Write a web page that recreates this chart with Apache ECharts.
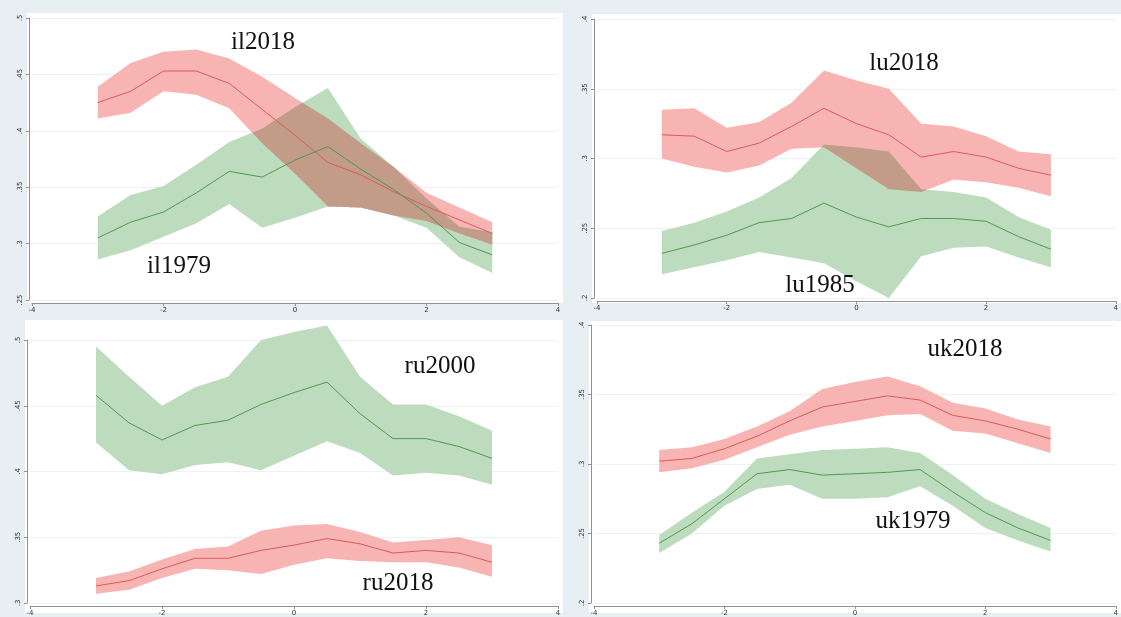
<!DOCTYPE html>
<html>
<head>
<meta charset="utf-8">
<script src="https://cdn.jsdelivr.net/npm/echarts@6/dist/echarts.min.js"></script>
<style>
html,body{margin:0;padding:0;background:#e8eff2;}
#chart{width:1121px;height:617px;}
</style>
</head>
<body>
<div id="chart"></div>
<script>
// shared x positions
const xs = [-3,-2.5,-2,-1.5,-1,-0.5,0,0.5,1,1.5,2,2.5,3];
const xTicks = [-4,-2,0,2,4];

// Panel 1: Israel
const ilTicks = [.25,.3,.35,.4,.45,.5];
const il2018 = [.425,.435,.453,.453,.442,.419,.396,.372,.361,.346,.333,.321,.309];
const il2018Hi = [.439,.460,.470,.472,.464,.448,.429,.411,.389,.368,.345,.332,.319];
const il2018Lo = [.411,.416,.435,.432,.420,.389,.362,.333,.332,.325,.320,.309,.299];
const il1979 = [.305,.319,.328,.345,.364,.359,.374,.386,.366,.348,.327,.301,.290];
const il1979Hi = [.324,.343,.351,.370,.390,.402,.421,.438,.393,.368,.340,.315,.310];
const il1979Lo = [.286,.294,.306,.318,.335,.314,.323,.333,.332,.325,.314,.288,.274];

// Panel 2: Luxembourg
const luTicks = [.2,.25,.3,.35,.4];
const lu2018 = [.317,.316,.305,.311,.323,.336,.325,.317,.301,.305,.301,.293,.288];
const lu2018Hi = [.335,.336,.322,.326,.340,.363,.356,.350,.325,.323,.316,.305,.303];
const lu2018Lo = [.300,.294,.290,.295,.307,.308,.293,.278,.276,.285,.283,.279,.273];
const lu1985 = [.232,.238,.245,.254,.257,.268,.258,.251,.257,.257,.255,.244,.235];
const lu1985Hi = [.248,.254,.262,.272,.286,.310,.308,.305,.278,.276,.272,.258,.249];
const lu1985Lo = [.217,.222,.227,.233,.229,.225,.212,.200,.230,.236,.237,.229,.222];

// Panel 3: Russia
const ruTicks = [.3,.35,.4,.45,.5];
const ru2000 = [.458,.437,.424,.435,.439,.451,.460,.468,.444,.425,.425,.419,.410];
const ru2000Hi = [.495,.472,.450,.464,.472,.500,.506,.511,.472,.451,.451,.442,.431];
const ru2000Lo = [.422,.401,.398,.405,.407,.401,.412,.423,.414,.397,.399,.397,.390];
const ru2018 = [.313,.317,.326,.334,.334,.340,.344,.349,.345,.338,.340,.338,.331];
const ru2018Hi = [.319,.324,.333,.341,.343,.355,.359,.360,.354,.346,.348,.350,.344];
const ru2018Lo = [.307,.310,.319,.326,.325,.322,.329,.334,.332,.331,.331,.327,.320];

// Panel 4: United Kingdom
const ukTicks = [.2,.25,.3,.35,.4];
const uk2018 = [.302,.304,.311,.320,.331,.341,.345,.349,.346,.335,.331,.325,.318];
const uk2018Hi = [.310,.312,.318,.327,.338,.354,.359,.363,.356,.344,.340,.332,.327];
const uk2018Lo = [.294,.297,.303,.312,.321,.327,.331,.335,.336,.324,.322,.315,.308];
const uk1979 = [.243,.257,.275,.293,.296,.292,.293,.294,.296,.280,.265,.254,.245];
const uk1979Hi = [.249,.265,.280,.304,.307,.310,.311,.312,.308,.292,.275,.264,.254];
const uk1979Lo = [.236,.250,.270,.282,.285,.275,.275,.276,.284,.270,.254,.245,.237];

const RED_BAND = '#f8b3b3', RED_LINE = '#de5a5a';
const GRN_BAND = '#bddcbd', GRN_LINE = '#4e9a4e';
const OVERLAP = '#c39c89';

const panels = [
  {ticks: ilTicks, grid:{left:32, top:18, width:526, height:282},
   red:{name:'il2018', v:il2018, hi:il2018Hi, lo:il2018Lo},
   green:{name:'il1979', v:il1979, hi:il1979Hi, lo:il1979Lo}},
  {ticks: luTicks, grid:{left:597, top:19, width:522, height:279},
   red:{name:'lu2018', v:lu2018, hi:lu2018Hi, lo:lu2018Lo},
   green:{name:'lu1985', v:lu1985, hi:lu1985Hi, lo:lu1985Lo}},
  {ticks: ruTicks, grid:{left:30, top:340, width:528, height:268},
   red:{name:'ru2018', v:ru2018, hi:ru2018Hi, lo:ru2018Lo},
   green:{name:'ru2000', v:ru2000, hi:ru2000Hi, lo:ru2000Lo}},
  {ticks: ukTicks, grid:{left:594, top:325, width:526, height:284},
   red:{name:'uk2018', v:uk2018, hi:uk2018Hi, lo:uk2018Lo},
   green:{name:'uk1979', v:uk1979, hi:uk1979Hi, lo:uk1979Lo}}
];

function fmtY(v){
  let s = String(+v.toFixed(3));
  return s.replace(/^0\./,'.');
}

// region where two bands overlap, derived from the band arrays
function overlapRuns(a, b){
  const N = 40, samples = [];
  for (let i = 0; i < xs.length - 1; i++) {
    for (let k = 0; k < N; k++) {
      const f = k / N;
      const x = xs[i] + (xs[i+1]-xs[i]) * f;
      const top = Math.min(a.hi[i] + (a.hi[i+1]-a.hi[i])*f, b.hi[i] + (b.hi[i+1]-b.hi[i])*f);
      const bot = Math.max(a.lo[i] + (a.lo[i+1]-a.lo[i])*f, b.lo[i] + (b.lo[i+1]-b.lo[i])*f);
      samples.push([x, top, bot]);
    }
  }
  const L = xs.length - 1;
  samples.push([xs[L], Math.min(a.hi[L], b.hi[L]), Math.max(a.lo[L], b.lo[L])]);
  const runs = []; let cur = null;
  for (let j = 0; j < samples.length; j++) {
    const s = samples[j], d = s[1] - s[2];
    if (d > 0) {
      if (!cur) {
        cur = [];
        if (j > 0) {
          const p = samples[j-1], dp = p[1] - p[2], f = dp / (dp - d);
          const y = p[1] + (s[1]-p[1]) * f;
          cur.push([p[0] + (s[0]-p[0]) * f, y, y]);
        }
      }
      cur.push(s);
    } else if (cur) {
      const p = samples[j-1], dp = p[1] - p[2], f = dp / (dp - d);
      const y = p[1] + (s[1]-p[1]) * f;
      cur.push([p[0] + (s[0]-p[0]) * f, y, y]);
      runs.push(cur); cur = null;
    }
  }
  if (cur) runs.push(cur);
  return runs;
}

function bandSeries(idx, s, color){
  return {
    type:'custom', xAxisIndex:idx, yAxisIndex:idx, silent:true, z:2,
    data: xs.map((x,i)=>[x, s.lo[i], s.hi[i]]),
    encode:{x:0, y:[1,2]},
    renderItem:function(params, api){
      if (params.dataIndex !== 0) return null;
      const top = xs.map((x,i)=>api.coord([x, s.hi[i]]));
      const bot = xs.map((x,i)=>api.coord([x, s.lo[i]])).reverse();
      return {type:'polygon', shape:{points: top.concat(bot)}, style:{fill:color}};
    }
  };
}
function overlapSeries(idx, a, b){
  const runs = overlapRuns(a, b);
  return {
    type:'custom', xAxisIndex:idx, yAxisIndex:idx, silent:true, z:2,
    data: [[xs[0], Math.max(a.lo[0], b.lo[0])]],
    renderItem:function(params, api){
      if (params.dataIndex !== 0) return null;
      return {type:'group', children: runs.map(run=>{
        const top = run.map(p=>api.coord([p[0], p[1]]));
        const bot = run.map(p=>api.coord([p[0], p[2]])).reverse();
        return {type:'polygon', shape:{points: top.concat(bot)}, style:{fill:OVERLAP}};
      })};
    }
  };
}
function lineSeries(idx, s, color){
  return {
    type:'line', xAxisIndex:idx, yAxisIndex:idx, silent:true, z:3,
    showSymbol:false, symbol:'none', clip:false,
    lineStyle:{color:color, width:1},
    data: xs.map((x,i)=>[x, s.v[i]])
  };
}

const grids=[], xAxes=[], yAxes=[], series=[];
panels.forEach((p,i)=>{
  grids.push(Object.assign({containLabel:false}, p.grid));
  xAxes.push({type:'value', gridIndex:i, min:xTicks[0], max:xTicks[xTicks.length-1], interval:2,
    offset:3,
    axisLine:{show:true, onZero:false, lineStyle:{color:'#8c9296', width:1}},
    axisTick:{show:true, length:3, lineStyle:{color:'#8c9296'}},
    axisLabel:{fontSize:7, color:'#333', margin:4, fontFamily:'DejaVu Sans'},
    splitLine:{show:false}});
  yAxes.push({type:'value', gridIndex:i, min:p.ticks[0], max:p.ticks[p.ticks.length-1], interval:0.05,
    offset:3,
    axisLine:{show:true, onZero:false, lineStyle:{color:'#8c9296', width:1}},
    axisTick:{show:true, length:3, lineStyle:{color:'#8c9296'}},
    axisLabel:{fontSize:7, color:'#333', margin:5, rotate:90, formatter:fmtY, fontFamily:'DejaVu Sans'},
    splitLine:{show:true, lineStyle:{color:'#edf1f3', width:1}}});
  series.push(bandSeries(i, p.red, RED_BAND));
  series.push(bandSeries(i, p.green, GRN_BAND));
  series.push(overlapSeries(i, p.red, p.green));
  series.push(lineSeries(i, p.red, RED_LINE));
  series.push(lineSeries(i, p.green, GRN_LINE));
});

const labelFont = {fontFamily:'Liberation Serif', fontSize:25, fill:'#111', textAlign:'center', textVerticalAlign:'middle'};
const texts = [
  ['il2018',263,42],['il1979',179,266],
  ['lu2018',904,63],['lu1985',820,285],
  ['ru2000',440,366],['ru2018',398,583],
  ['uk2018',965,349],['uk1979',913,521]
];

const chart = echarts.init(document.getElementById('chart'), null, {renderer:'canvas'});
chart.setOption({
  backgroundColor:'#e8eff2',
  animation:false,
  grid:grids, xAxis:xAxes, yAxis:yAxes, series:series,
  graphic:[
    {type:'rect', z:0, silent:true, shape:{x:27, y:13, width:536, height:290}, style:{fill:'#fff'}},
    {type:'rect', z:0, silent:true, shape:{x:592, y:14, width:529, height:289}, style:{fill:'#fff'}},
    {type:'rect', z:0, silent:true, shape:{x:25, y:320, width:538, height:293}, style:{fill:'#fff'}},
    {type:'rect', z:0, silent:true, shape:{x:589, y:321, width:532, height:292}, style:{fill:'#fff'}}
  ].concat(texts.map(t=>({type:'text', z:100, silent:true, x:t[1], y:t[2],
      style:Object.assign({text:t[0]}, labelFont)})))
});
</script>
</body>
</html>
